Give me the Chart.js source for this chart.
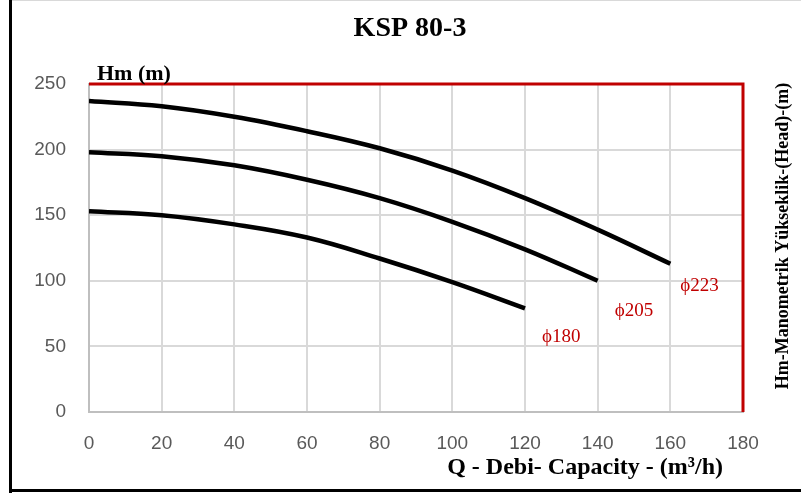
<!DOCTYPE html>
<html>
<head>
<meta charset="utf-8">
<script src="https://cdn.jsdelivr.net/npm/chart.js@4"></script>
<style>
  html, body { margin: 0; padding: 0; background: #fff; }
  #wrap { width: 801px; height: 494px; }
</style>
</head>
<body>
<div id="wrap"><canvas id="chartKsp" width="801" height="494"></canvas></div>
<script>
// Debi (m3/h) noktaları ve her çap için yükseklik değerleri
const flows = [0, 20, 40, 60, 80, 100, 120, 140, 160];
const head223 = [237, 233, 225, 214, 201, 184, 163, 139, 113];
const head205 = [198, 195, 188, 177, 163, 145, 124, 100];
const head180 = [153, 150, 143, 133, 117, 99, 79];

const curveNames = ['ϕ223', 'ϕ205', 'ϕ180'];
const labelX = [168, 150, 130];
const labelY = [96, 77, 57];

const xTicks = [0, 20, 40, 60, 80, 100, 120, 140, 160, 180];
const yTicks = [0, 50, 100, 150, 200, 250];

function toPoints(heads) {
    return heads.map((h, i) => ({ x: flows[i], y: h }));
}

const serif = '"Liberation Serif", "Times New Roman", serif';

// Başlıklar, kırmızı çerçeve ve eğri etiketleri
const annotations = {
    id: 'annotations',
    beforeDraw(chart) {
        const c = chart.ctx;
        c.save();
        c.fillStyle = '#fff';
        c.fillRect(0, 0, chart.width, chart.height);
        c.fillStyle = '#000';
        c.fillRect(9, 0, 3, 493);
        c.fillRect(9, 489, 792, 3);
        c.fillStyle = '#d9d9d9';
        c.fillRect(12, 0, 789, 1);
        c.restore();
    },
    afterDraw(chart) {
        const c = chart.ctx;
        const a = chart.chartArea;
        const xs = chart.scales.x;
        const ys = chart.scales.y;
        c.save();
        c.strokeStyle = '#c00000';
        c.lineWidth = 3;
        c.beginPath();
        c.moveTo(a.left, a.top);
        c.lineTo(a.right, a.top);
        c.lineTo(a.right, a.bottom);
        c.stroke();

        c.fillStyle = '#000';
        c.textBaseline = 'alphabetic';
        c.font = 'bold 28px ' + serif;
        c.textAlign = 'center';
        c.fillText('KSP 80-3', 410, 36);

        c.font = 'bold 22px ' + serif;
        c.textAlign = 'left';
        c.fillText('Hm (m)', 97, 80);

        c.font = 'bold 24px ' + serif;
        c.textAlign = 'right';
        c.fillText('Q - Debi- Capacity - (m³/h)', 723, 474);

        c.save();
        c.translate(788, 236);
        c.rotate(-Math.PI / 2);
        c.font = 'bold 18px ' + serif;
        c.textAlign = 'center';
        c.fillText('Hm-Manometrik Yükseklik-(Head)-(m)', 0, 0);
        c.restore();

        c.fillStyle = '#c00000';
        c.font = '19px ' + serif;
        c.textAlign = 'center';
        c.textBaseline = 'middle';
        curveNames.forEach((n, i) => {
            c.fillText(n, xs.getPixelForValue(labelX[i]), ys.getPixelForValue(labelY[i]));
        });
        c.restore();
    }
};

const lineStyle = {
    borderColor: '#000',
    borderWidth: 4.5,
    pointRadius: 0,
    fill: false,
    tension: 0.4
};

new Chart(document.getElementById('chartKsp'), {
    type: 'line',
    data: {
        datasets: [
            Object.assign({ label: curveNames[0], data: toPoints(head223) }, lineStyle),
            Object.assign({ label: curveNames[1], data: toPoints(head205) }, lineStyle),
            Object.assign({ label: curveNames[2], data: toPoints(head180) }, lineStyle)
        ]
    },
    options: {
        responsive: false,
        animation: false,
        layout: { padding: { left: 10, right: 58, top: 84, bottom: 0 } },
        plugins: {
            legend: { display: false },
            tooltip: { enabled: false }
        },
        scales: {
            x: {
                type: 'linear',
                min: 0,
                max: 180,
                afterBuildTicks: s => { s.ticks = xTicks.map(v => ({ value: v })); },
                afterFit: s => { s.height = 82; },
                grid: { color: '#d9d9d9', lineWidth: 2, drawTicks: false },
                border: { color: '#bfbfbf', width: 2 },
                ticks: {
                    color: '#595959',
                    padding: 20,
                    maxRotation: 0,
                    font: { family: '"Liberation Sans", Arial, sans-serif', size: 19 }
                }
            },
            y: {
                min: 0,
                max: 250,
                afterBuildTicks: s => { s.ticks = yTicks.map(v => ({ value: v })); },
                afterFit: s => { s.width = 79; },
                grid: { color: '#d9d9d9', lineWidth: 2, drawTicks: false },
                border: { color: '#bfbfbf', width: 2 },
                ticks: {
                    color: '#595959',
                    padding: 23,
                    font: { family: '"Liberation Sans", Arial, sans-serif', size: 19 }
                }
            }
        }
    },
    plugins: [annotations]
});
</script>
</body>
</html>
